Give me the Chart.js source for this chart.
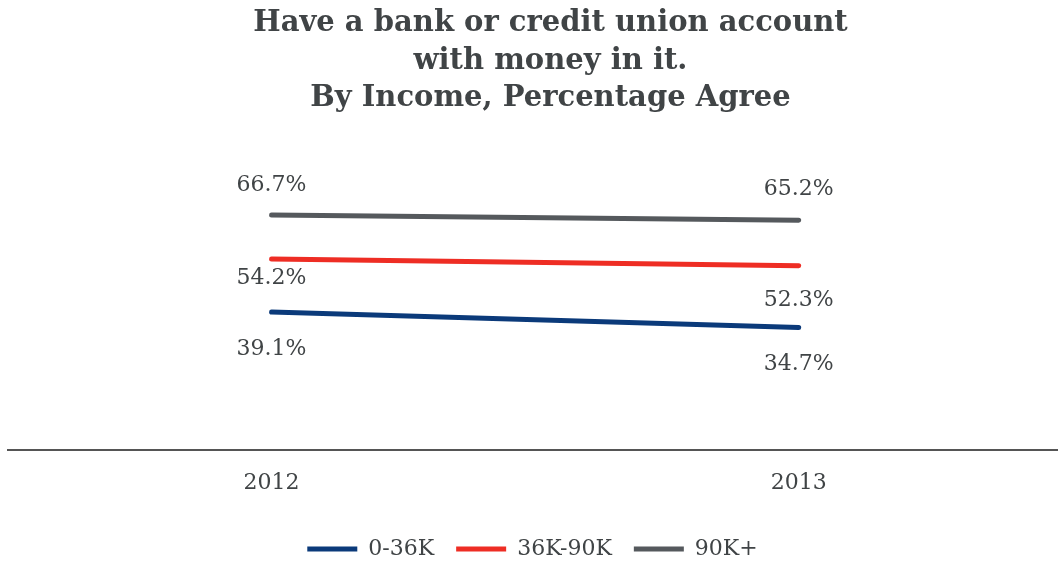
<!DOCTYPE html>
<html>
<head>
<meta charset="utf-8">
<script src="https://cdn.jsdelivr.net/npm/chart.js@4"></script>
<style>
  html, body { margin: 0; padding: 0; background: #ffffff; overflow: hidden; }
  #wrap { width: 1058px; height: 561px; position: relative; }
</style>
</head>
<body>
<div id="wrap"><canvas id="incomeChart"></canvas></div>
<script>
// data
var years = [2012, 2013];
var seriesNames = ["0-36K", "36K-90K", "90K+"];
var lowIncome = [39.1, 34.7];
var midIncome = [54.2, 52.3];
var highIncome = [66.7, 65.2];
var seriesColors = ["#0b3a7a", "#ee2d24", "#55595d"];

var textColor = "#404446";
var serif = "'DejaVu Serif', 'Liberation Serif', serif";

// label offsets from the point (px), per series / per year
var labelOffsets = [
  [37, 37],
  [19, 35],
  [-30, -31]
];

var valueLabels = {
  id: "valueLabels",
  afterLayout: function (chart) {
    // title sits a bit right of the plot centre in the original
    if (chart.titleBlock) {
      chart.titleBlock.left += 18;
      chart.titleBlock.right += 18;
    }
  },
  afterDatasetsDraw: function (chart) {
    var ctx = chart.ctx;
    ctx.save();
    ctx.font = "22px " + serif;
    ctx.fillStyle = textColor;
    ctx.textAlign = "center";
    ctx.textBaseline = "middle";
    chart.data.datasets.forEach(function (ds, di) {
      var meta = chart.getDatasetMeta(di);
      meta.data.forEach(function (pt, i) {
        var v = ds.data[i];
        ctx.fillText(v.y.toFixed(1) + "%", pt.x, pt.y + labelOffsets[di][i]);
      });
    });
    ctx.restore();
  }
};

function toPoints(values) {
  return values.map(function (v, i) {
    return { x: years[i], y: v };
  });
}

var allSeries = [lowIncome, midIncome, highIncome];
var datasets = allSeries.map(function (values, i) {
  return {
    label: seriesNames[i],
    data: toPoints(values),
    borderColor: seriesColors[i],
    backgroundColor: seriesColors[i],
    borderWidth: 5,
    borderCapStyle: "round",
    pointRadius: 0,
    fill: false,
    tension: 0
  };
});

new Chart(document.getElementById("incomeChart"), {
  type: "line",
  data: { datasets: datasets },
  options: {
    responsive: true,
    maintainAspectRatio: false,
    animation: false,
    layout: { padding: { left: 8, right: 1, top: 0, bottom: -9 } },
    plugins: {
      title: {
        display: true,
        text: [
          "Have a bank or credit union account",
          "with money in it.",
          "By Income, Percentage Agree"
        ],
        color: textColor,
        font: { family: serif, size: 29, weight: "bold", lineHeight: 1.29 },
        padding: { top: 5, bottom: 51 }
      },
      legend: {
        position: "bottom",
        labels: {
          usePointStyle: true,
          pointStyle: "line",
          pointStyleWidth: 50,
          color: textColor,
          font: { family: serif, size: 22 },
          padding: 22
        }
      },
      tooltip: { enabled: false }
    },
    scales: {
      x: {
        type: "linear",
        min: 2011.5,
        max: 2013.49,
        afterBuildTicks: function (axis) {
          axis.ticks = years.map(function (y) { return { value: y }; });
        },
        ticks: {
          color: textColor,
          font: { family: serif, size: 22 },
          padding: 20,
          callback: function (value) { return String(value); }
        },
        grid: { display: false, drawTicks: false },
        border: { display: true, color: "#555555", width: 2 }
      },
      y: {
        display: false,
        min: 0,
        max: 80
      }
    }
  },
  plugins: [valueLabels]
});
</script>
</body>
</html>
